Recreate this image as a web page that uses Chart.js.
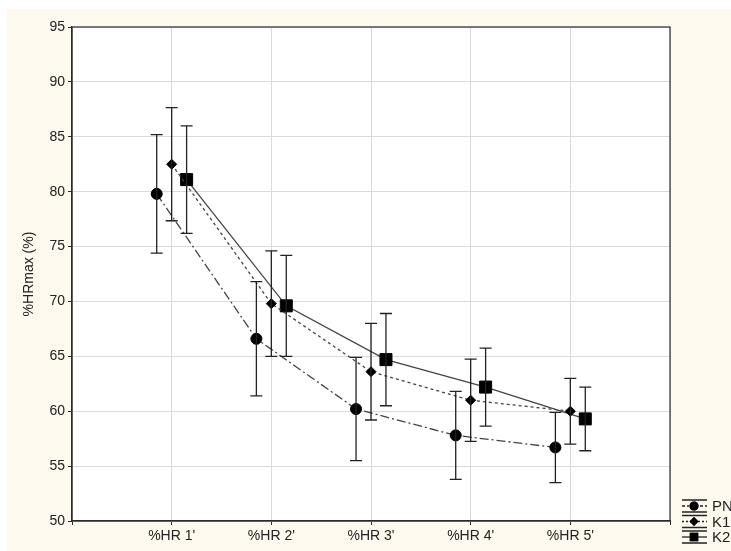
<!DOCTYPE html>
<html lang="en">
  <head>
    <meta charset="UTF-8" />
    <title>%HRmax</title>
    <script src="https://cdn.jsdelivr.net/npm/chart.js"></script>
    <style>
      body { margin: 0; background: #fff; }
    </style>
  </head>
  <body>
    <canvas id="chart" width="731" height="551"></canvas>
    <script>
      const categories = ["%HR 1'", "%HR 2'", "%HR 3'", "%HR 4'", "%HR 5'"];
      const seriesNames = ["PN", "K1", "K2"];
      const pnMean = [79.8, 66.6, 60.2, 57.8, 56.7];
      const pnErr = [5.4, 5.2, 4.7, 4.0, 3.2];
      const k1Mean = [82.5, 69.8, 63.6, 61.0, 60.0];
      const k1Err = [5.15, 4.8, 4.4, 3.75, 3.0];
      const k2Mean = [81.1, 69.6, 64.7, 62.2, 59.3];
      const k2Err = [4.9, 4.6, 4.2, 3.55, 2.9];
      const yTicks = [50, 55, 60, 65, 70, 75, 80, 85, 90, 95];

      const ink = "#2b2b2b";
      const face = "'Liberation Sans', Arial, sans-serif";
      const shift = [-0.15, 0, 0.15];
      const dashes = [[9, 3, 2, 3], [3, 3], []];
      const shapes = ["circle", "rectRot", "rect"];
      const radii = [5.5, 5, 8.5];

      const points = (means, k) =>
        means.map((v, i) => ({ x: i + 1 + shift[k], y: v }));

      const errs = [pnErr, k1Err, k2Err];
      const datasets = [pnMean, k1Mean, k2Mean].map((m, k) => ({
        label: seriesNames[k],
        data: points(m, k),
        showLine: true,
        borderColor: "#444",
        borderWidth: 1.3,
        borderDash: dashes[k],
        pointStyle: shapes[k],
        pointRadius: radii[k],
        pointBackgroundColor: "#000",
        pointBorderColor: "#000",
        pointBorderWidth: 1,
        fill: false,
      }));

      const backdrop = {
        id: "backdrop",
        beforeDraw(chart) {
          const { ctx, chartArea: a } = chart;
          ctx.save();
          ctx.fillStyle = "#fff";
          ctx.fillRect(0, 0, chart.width, chart.height);
          ctx.fillStyle = "#fdf9ee";
          ctx.fillRect(7, 9, chart.width - 7, chart.height - 9);
          ctx.fillStyle = "#fff";
          ctx.fillRect(a.left, a.top, a.right - a.left, a.bottom - a.top);
          ctx.restore();
        },
        beforeDatasetsDraw(chart) {
          const { ctx, chartArea: a } = chart;
          ctx.save();
          ctx.strokeStyle = ink;
          ctx.lineWidth = 1.2;
          ctx.strokeRect(a.left, a.top, a.right - a.left, a.bottom - a.top);
          ctx.restore();
        },
      };

      const errorBars = {
        id: "errorBars",
        afterDatasetsDraw(chart) {
          const { ctx, scales } = chart;
          ctx.save();
          ctx.strokeStyle = "#222";
          ctx.lineWidth = 1.3;
          chart.data.datasets.forEach((ds, k) => {
            ds.data.forEach((p, i) => {
              const x = scales.x.getPixelForValue(p.x);
              const y1 = scales.y.getPixelForValue(p.y + errs[k][i]);
              const y2 = scales.y.getPixelForValue(p.y - errs[k][i]);
              ctx.beginPath();
              ctx.moveTo(x, y1);
              ctx.lineTo(x, y2);
              ctx.moveTo(x - 6, y1);
              ctx.lineTo(x + 6, y1);
              ctx.moveTo(x - 6, y2);
              ctx.lineTo(x + 6, y2);
              ctx.stroke();
            });
          });
          ctx.restore();
        },
      };

      const keyBox = {
        id: "keyBox",
        afterDraw(chart) {
          const { ctx } = chart;
          ctx.save();
          chart.data.datasets.forEach((ds, k) => {
            const y = 506 + k * 15.5;
            ctx.strokeStyle = "#222";
            ctx.lineWidth = 1.3;
            ctx.setLineDash([]);
            ctx.beginPath();
            ctx.moveTo(682, y - 6);
            ctx.lineTo(707, y - 6);
            ctx.moveTo(682, y + 6);
            ctx.lineTo(707, y + 6);
            ctx.stroke();
            ctx.setLineDash(k === 0 ? [3, 2, 2, 2] : k === 1 ? [2, 2] : []);
            ctx.beginPath();
            ctx.moveTo(682, y);
            ctx.lineTo(707, y);
            ctx.stroke();
            ctx.setLineDash([]);
            ctx.fillStyle = "#000";
            Chart.helpers.drawPoint(
              ctx,
              { pointStyle: shapes[k], radius: k === 2 ? 6 : 4.5, borderWidth: 0 },
              694,
              y
            );
            ctx.fill();
            ctx.fillStyle = "#222";
            ctx.font = "15px " + face;
            ctx.textBaseline = "middle";
            ctx.fillText(ds.label, 712, y + 1);
          });
          ctx.restore();
        },
      };

      new Chart(document.getElementById("chart"), {
        type: "scatter",
        data: { datasets },
        plugins: [backdrop, errorBars, keyBox],
        options: {
          responsive: false,
          animation: false,
          layout: { padding: { top: 27, right: 61, left: 0, bottom: 0 } },
          plugins: { legend: { display: false }, tooltip: { enabled: false } },
          font: { family: face, size: 14 },
          scales: {
            x: {
              type: "linear",
              min: 0,
              max: 6,
              afterFit: (s) => { s.height = 30; },
              afterBuildTicks: (s) => {
                s.ticks = [0, 1, 2, 3, 4, 5, 6].map((v) => ({ value: v }));
              },
              ticks: {
                color: "#222",
                padding: 3,
                maxRotation: 0,
                autoSkip: false,
                font: { family: face, size: 14 },
                callback: (v) => categories[v - 1] || "",
              },
              grid: { color: "#dadada", tickColor: ink, tickLength: 4 },
              border: { color: ink, width: 1.2 },
            },
            y: {
              min: 50,
              max: 95,
              afterFit: (s) => { s.width = 72; },
              afterBuildTicks: (s) => {
                s.ticks = yTicks.map((v) => ({ value: v }));
              },
              ticks: {
                color: "#222",
                padding: 3,
                font: { family: face, size: 14 },
              },
              grid: { color: "#dadada", tickColor: ink, tickLength: 4 },
              border: { color: ink, width: 1.2 },
              title: {
                display: true,
                text: "%HRmax (%)",
                color: "#222",
                padding: { top: 21, bottom: 0 },
                font: { family: face, size: 14 },
              },
            },
          },
        },
      });
    </script>
  </body>
</html>
